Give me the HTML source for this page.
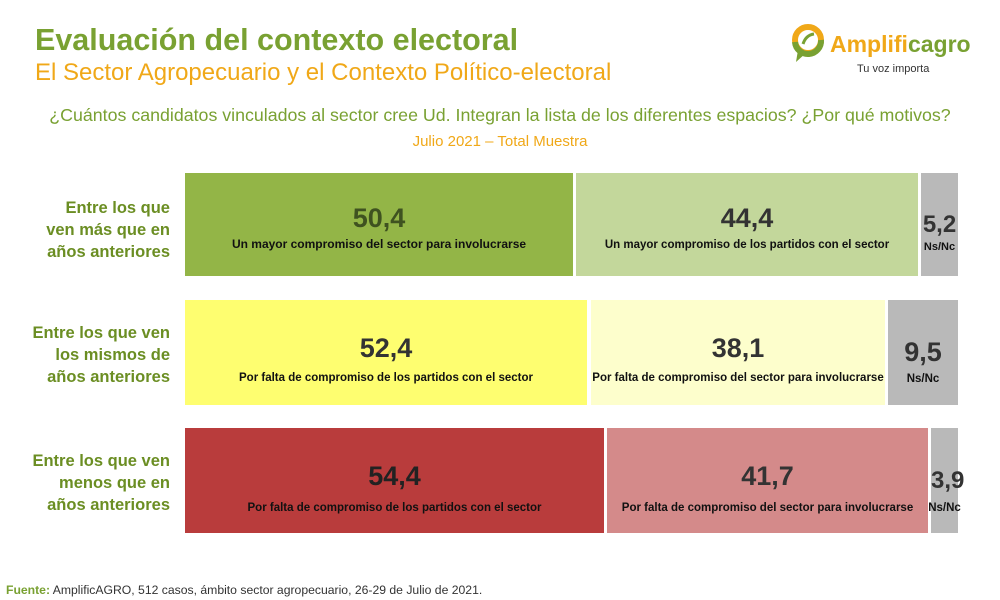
<!DOCTYPE html>
<html><head><meta charset="utf-8"><style>
body{margin:0;width:1000px;height:600px;background:#fff;position:relative;overflow:hidden;font-family:"Liberation Sans",sans-serif}
.a{position:absolute}
.bar{position:absolute;text-align:center;overflow:visible}
.num{position:absolute;left:0;right:0;font-weight:bold;font-size:27px;color:#333;white-space:nowrap}
.lab{position:absolute;left:-20px;right:-20px;font-weight:bold;font-size:12px;color:#111;white-space:nowrap}
.rl{position:absolute;right:830px;width:170px;text-align:right;color:#6b8e23;font-weight:bold;font-size:16.5px;line-height:22px}
</style></head><body>
<div class="a" style="left:35px;top:23px;font-size:30.5px;font-weight:bold;color:#79a132">Evaluación del contexto electoral</div>
<div class="a" style="left:35px;top:59px;font-size:24px;color:#f0a818">El Sector Agropecuario y el Contexto Político-electoral</div>
<div class="a" style="left:48px;width:904px;top:105px;text-align:center;font-size:17.8px;color:#79a132;white-space:nowrap">¿Cuántos candidatos vinculados al sector cree Ud. Integran la lista de los diferentes espacios? ¿Por qué motivos?</div>
<div class="a" style="left:0;width:1000px;top:133px;text-align:center;font-size:15px;color:#f0a818">Julio 2021 – Total Muestra</div>
<!-- logo -->
<svg class="a" style="left:790px;top:22px" width="40" height="44"><circle cx="18" cy="18" r="13" fill="none" stroke="#f0a818" stroke-width="6"/><path d="M5 20 A13 13 0 0 0 31 18" fill="none" stroke="#79a132" stroke-width="6"/><path d="M8 28 L6 40 L16 31Z" fill="#79a132"/><path d="M13 22 Q16 13 24 12" stroke="#79a132" stroke-width="3" fill="none"/></svg>
<div class="a" style="left:830px;top:31px;font-size:23px;font-weight:bold;color:#f0a818">Amplifi<span style="color:#79a132">cagro</span></div>
<div class="a" style="left:857px;top:63px;font-size:11px;color:#333">Tu voz importa</div>

<div class="rl" style="top:197px">Entre los que<br>ven más que en<br>años anteriores</div>
<div class="rl" style="top:322px">Entre los que ven<br>los mismos de<br>años anteriores</div>
<div class="rl" style="top:450px">Entre los que ven<br>menos que en<br>años anteriores</div>

<div class="bar" style="left:185px;top:173px;width:388px;height:103px;background:#93b547"><div class="num" style="top:30px;color:#3f5220">50,4</div><div class="lab" style="top:64px">Un mayor compromiso del sector para involucrarse</div></div>
<div class="bar" style="left:576px;top:173px;width:342px;height:103px;background:#c3d79b"><div class="num" style="top:30px">44,4</div><div class="lab" style="top:66px;font-size:11.5px">Un mayor compromiso de los partidos con el sector</div></div>
<div class="bar" style="left:921px;top:173px;width:37px;height:103px;background:#b9b9b9"><div class="num" style="top:38px;font-size:24px">5,2</div><div class="lab" style="top:68px;font-size:11px">Ns/Nc</div></div>

<div class="bar" style="left:185px;top:300px;width:402px;height:105px;background:#fefe70"><div class="num" style="top:33px">52,4</div><div class="lab" style="top:72px;font-size:11.5px">Por falta de compromiso de los partidos con el sector</div></div>
<div class="bar" style="left:591px;top:300px;width:294px;height:105px;background:#fdfecc"><div class="num" style="top:33px">38,1</div><div class="lab" style="top:72px;font-size:11.5px">Por falta de compromiso del sector para involucrarse</div></div>
<div class="bar" style="left:888px;top:300px;width:70px;height:105px;background:#b9b9b9"><div class="num" style="top:37px">9,5</div><div class="lab" style="top:73px;font-size:11.5px">Ns/Nc</div></div>

<div class="bar" style="left:185px;top:428px;width:419px;height:105px;background:#b93c3c"><div class="num" style="top:33px;color:#222">54,4</div><div class="lab" style="top:74px;font-size:11.5px">Por falta de compromiso de los partidos con el sector</div></div>
<div class="bar" style="left:607px;top:428px;width:321px;height:105px;background:#d48a8a"><div class="num" style="top:33px">41,7</div><div class="lab" style="top:74px;font-size:11.5px">Por falta de compromiso del sector para involucrarse</div></div>
<div class="bar" style="left:931px;top:428px;width:27px;height:105px;background:#b9b9b9"><div class="num" style="top:39px;font-size:24px">3,9</div><div class="lab" style="top:74px;font-size:11.5px">Ns/Nc</div></div>

<div class="a" style="left:6px;top:583px;font-size:12.2px;color:#333"><b style="color:#79a132">Fuente:</b> AmplificAGRO, 512 casos, ámbito sector agropecuario, 26-29 de Julio de 2021.</div>
</body></html>
